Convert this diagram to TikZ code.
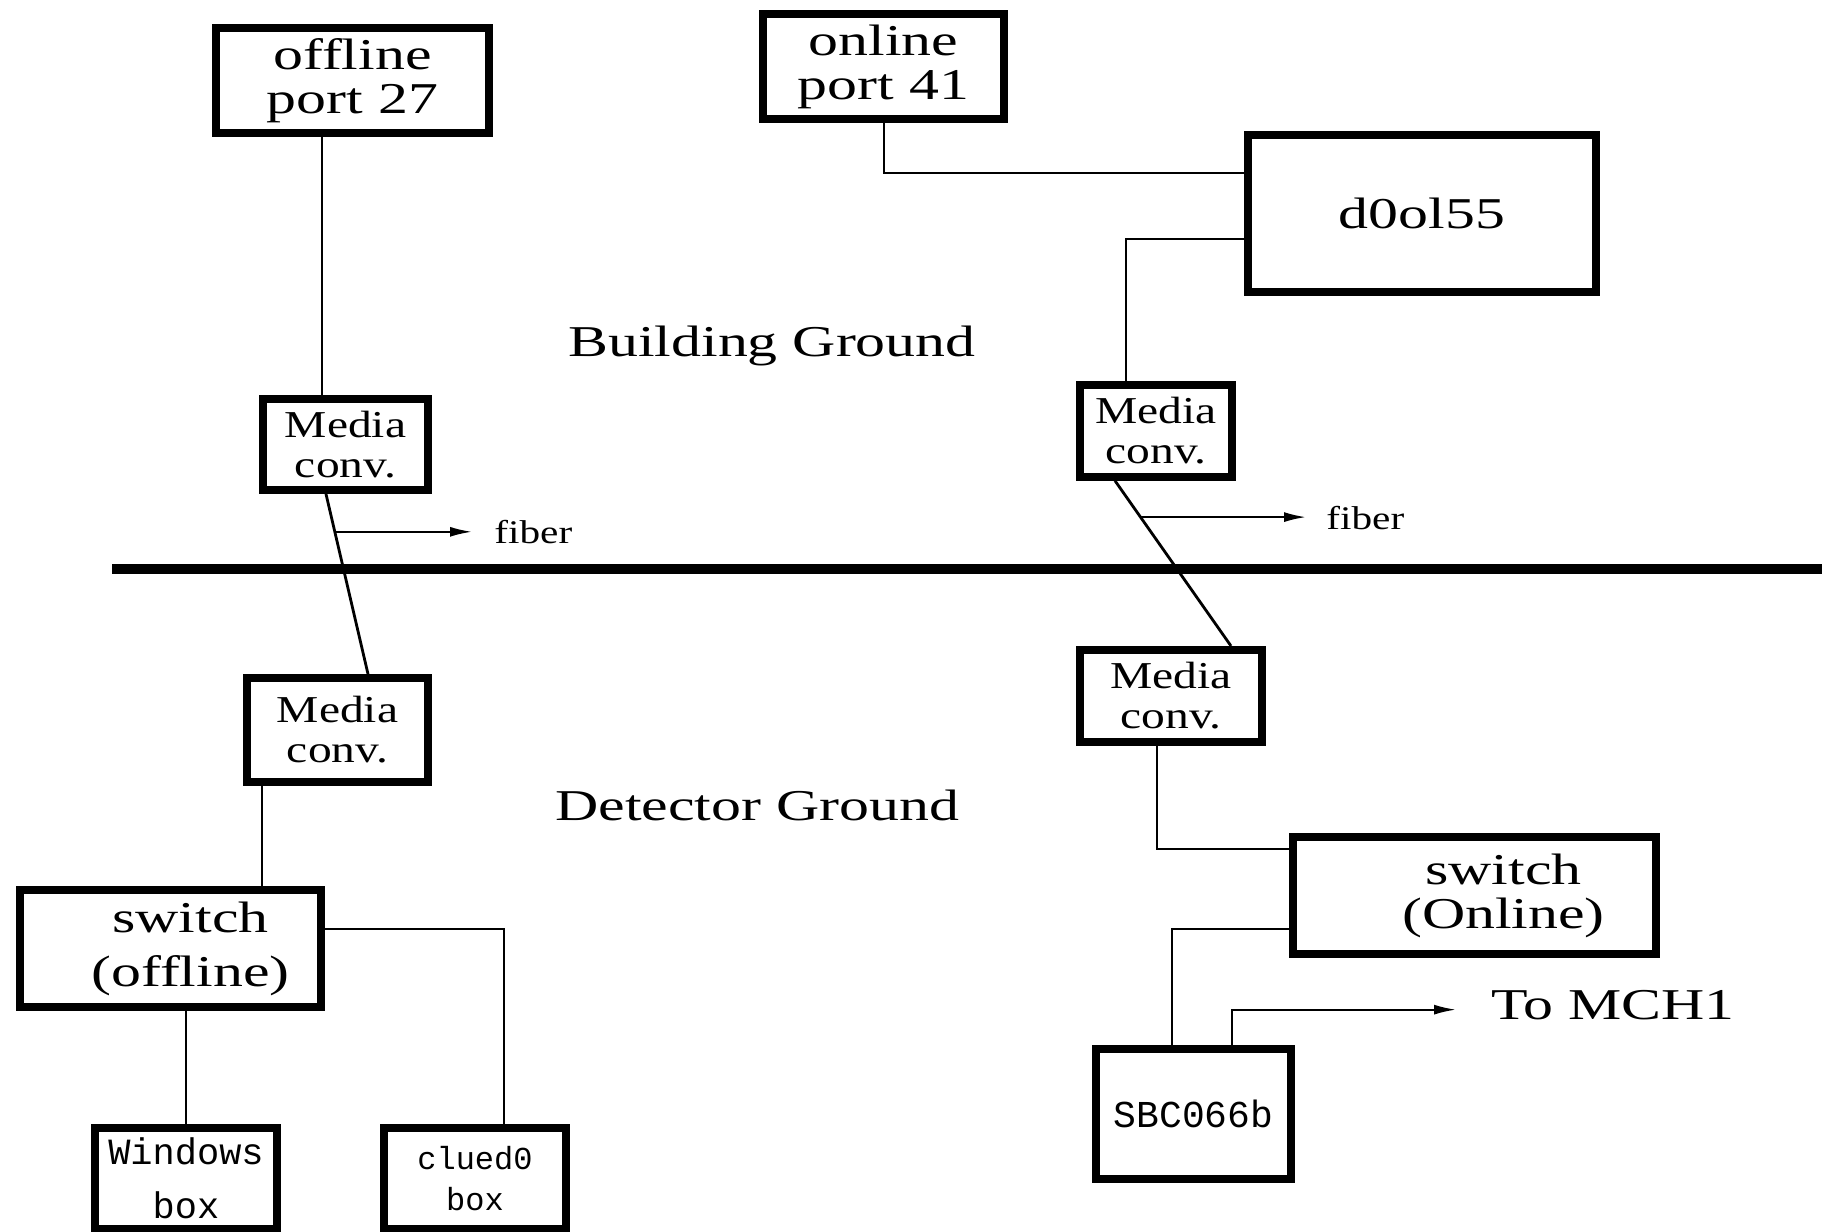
\documentclass[tikz,border=0pt]{standalone}
\usepackage{fontspec}
\usetikzlibrary{arrows.meta}
\newfontfamily\figfont[FakeStretch=1.25]{Liberation Serif}
\newfontfamily\bigfont[FakeStretch=1.36]{Liberation Serif}
\newfontfamily\boxfont{Liberation Mono}

\begin{document}
\begin{tikzpicture}[x=0.5pt,y=-0.5pt,
    box/.style={draw,line width=4pt,align=center,inner sep=0pt},
    big/.style={font=\bigfont\fontsize{22}{22}\selectfont},
    small/.style={font=\figfont\fontsize{19}{20}\selectfont},
    wire/.style={line width=1pt},
    fibre/.style={line width=1.4pt},
    tip/.style={line width=1pt,-{Latex[length=11pt,width=5pt]}},
    lbl/.style={anchor=base west,inner sep=0pt}]
  \useasboundingbox (0,0) rectangle (1822,1232);
  \node[box,big,minimum width=136.5pt,minimum height=52.5pt] (offport) at (352.5,80.5) {offline\\port 27};
  \node[box,big,minimum width=120.5pt,minimum height=52.5pt] (onport) at (883.5,66.5) {online\\port 41};
  \node[box,big,minimum width=174pt,minimum height=78.5pt] (dzero) at (1422,213.5) {d0ol55};
  \foreach \n/\x/\y/\w/\h in {mc1/345.5/444.5/82.5/45.5,mc2/1156/431/76/45.75,mc3/337.5/730/90.5/52,mc4/1171/696/91/46}
    \node[box,small,minimum width=\w pt,minimum height=\h pt] (\n) at (\x,\y) {Media\\conv.};
  \node[box,font=\bigfont\fontsize{22}{27}\selectfont,minimum width=150.5pt,minimum height=58.5pt] (swoff) at (170.5,948.5) {\hspace*{20pt}switch\\\hspace*{20pt}(offline)};
  \node[box,big,minimum width=181.5pt,minimum height=58.5pt] (swon) at (1474.5,895.5) {\hspace*{29pt}switch\\\hspace*{29pt}(Online)};
  \node[box,font=\boxfont\fontsize{19}{20}\selectfont,minimum width=97.5pt,minimum height=64.75pt] (sbc) at (1193.5,1113.75) {SBC066b};
  \node[box,font=\boxfont\fontsize{18.5}{27}\selectfont,minimum width=91pt,minimum height=50.5pt] (win) at (186,1178.5) {Windows\\box};
  \node[box,font=\boxfont\fontsize{16}{20.5}\selectfont,minimum width=91pt,minimum height=50.5pt] (clue) at (475,1178.5) {clued0\\box};

  \node[lbl,big] (bgnd) at (568,356) {Building Ground};
  \node[lbl,big] (dgnd) at (555,820) {Detector Ground};
  \node[lbl,font=\figfont\fontsize{16.5}{20}\selectfont] (fibtxtL) at (494,543) {fiber};
  \node[lbl,font=\figfont\fontsize{16.5}{20}\selectfont] (fibtxtR) at (1326,529) {fiber};
  \node[lbl,big] (mch) at (1491,1019) {To MCH1};

  \draw[line width=5.3pt] (112,569) -- (1822,569);

  \draw[wire] ([xshift=-15.25pt]offport.south) -- ([xshift=-11.75pt]mc1.north);
  \draw[wire] (onport.south) |- ([yshift=20.25pt]dzero.west);
  \draw[wire] ([yshift=-12.75pt]dzero.west) -| ([xshift=-15pt]mc2.north);
  \draw[fibre] ([xshift=-9.75pt]mc1.south) -- ([xshift=15.25pt]mc3.north) coordinate[pos=0.21] (fibL);
  \draw[fibre] ([xshift=-20.5pt]mc2.south) -- ([xshift=30pt]mc4.north) coordinate[pos=0.22] (fibR);
  \draw[tip,shorten >=11pt] (fibL) -- (fibL -| fibtxtL.west);
  \draw[tip,shorten >=10pt] (fibR) -- (fibR -| fibtxtR.west);
  \draw[wire] ([xshift=-37.75pt]mc3.south) -- ([xshift=45.75pt]swoff.north);
  \draw[wire] ([yshift=10pt]swoff.east) -| ([xshift=14.5pt]clue.north);
  \draw[wire] ([xshift=7.75pt]swoff.south) -- (win.north);
  \draw[wire] ([xshift=-7pt]mc4.south) |- ([yshift=23.25pt]swon.west);
  \draw[wire] ([yshift=-16.5pt]swon.west) -| ([xshift=-10.75pt]sbc.north);
  \draw[tip,shorten >=17.5pt] ([xshift=19.25pt]sbc.north) |- ([yshift=-2.5pt]mch.west);
\end{tikzpicture}
\end{document}
